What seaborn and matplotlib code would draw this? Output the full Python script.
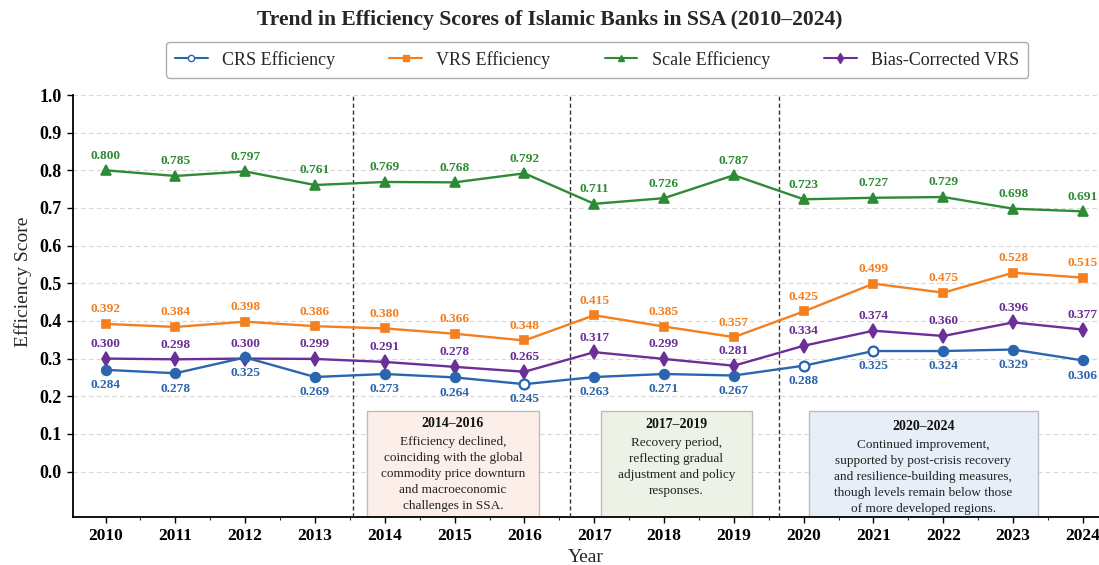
import numpy as np
import pandas as pd
import matplotlib
matplotlib.use("Agg")
import matplotlib.pyplot as plt
from matplotlib.lines import Line2D
from matplotlib.patches import Rectangle
from matplotlib.ticker import MultipleLocator
import seaborn as sns

# ---------------- data ----------------
years = list(range(2010, 2025))
crs_plot = [0.270, 0.261, 0.303, 0.251, 0.259, 0.250, 0.232, 0.251, 0.259, 0.255,
            0.281, 0.320, 0.320, 0.324, 0.295]
crs_labels = [0.284, 0.278, 0.325, 0.269, 0.273, 0.264, 0.245, 0.263, 0.271, 0.267,
              0.288, 0.325, 0.324, 0.329, 0.306]
vrs = [0.392, 0.384, 0.398, 0.386, 0.380, 0.366, 0.348, 0.415, 0.385, 0.357,
       0.425, 0.499, 0.475, 0.528, 0.515]
scale_eff = [0.800, 0.785, 0.797, 0.761, 0.769, 0.768, 0.792, 0.711, 0.726, 0.787,
             0.723, 0.727, 0.729, 0.698, 0.691]
bias_vrs = [0.300, 0.298, 0.300, 0.299, 0.291, 0.278, 0.265, 0.317, 0.299, 0.281,
            0.334, 0.374, 0.360, 0.396, 0.377]
crs_hollow_years = [2016, 2020, 2021]

series_names = ["CRS Efficiency", "VRS Efficiency", "Scale Efficiency", "Bias-Corrected VRS"]
yticks = [0.0, 0.1, 0.2, 0.3, 0.4, 0.5, 0.6, 0.7, 0.8, 0.9, 1.0]
period_breaks = [2013.55, 2016.65, 2019.65]

period_titles = ["2014\u20132016", "2017\u20132019", "2020\u20132024"]
period_texts = [
    "Efficiency declined,\ncoinciding with the global\ncommodity price downturn\nand macroeconomic\nchallenges in SSA.",
    "Recovery period,\nreflecting gradual\nadjustment and policy\nresponses.",
    "Continued improvement,\nsupported by post-crisis recovery\nand resilience-building measures,\nthough levels remain below those\nof more developed regions.",
]

# ---------------- style ----------------
sns.set_style("ticks")
plt.rcParams["font.family"] = ["Liberation Serif", "DejaVu Serif"]

c_crs = "#2b65ad"
c_vrs = "#f47f1f"
c_scale = "#2e8b35"
c_bias = "#6b2f97"

fig = plt.figure(figsize=(10.99, 5.65), dpi=100)
W, H = 1099, 565
ax = fig.add_axes([72.7 / W, 1 - 516.7 / H, 1 - 72.7 / W, (516.7 - 95) / H])

df = pd.DataFrame({"Year": years, "CRS": crs_plot, "VRS": vrs,
                   "Scale": scale_eff, "Bias": bias_vrs})

line_kw = dict(linewidth=1.7, markeredgewidth=1.2, zorder=5)
sns.lineplot(data=df, x="Year", y="Scale", ax=ax, color=c_scale, marker="^",
             markersize=7, markeredgecolor=c_scale, **line_kw)
sns.lineplot(data=df, x="Year", y="VRS", ax=ax, color=c_vrs, marker="s",
             markersize=6, markeredgecolor=c_vrs, **line_kw)
sns.lineplot(data=df, x="Year", y="Bias", ax=ax, color=c_bias, marker="d",
             markersize=7, markeredgecolor=c_bias, **line_kw)
sns.lineplot(data=df, x="Year", y="CRS", ax=ax, color=c_crs, marker="o",
             markersize=7, markeredgecolor=c_crs, **line_kw)
hollow = df[df["Year"].isin(crs_hollow_years)]
ax.plot(hollow["Year"], hollow["CRS"], linestyle="none", marker="o", markersize=7,
        markerfacecolor="white", markeredgecolor=c_crs, markeredgewidth=1.6, zorder=6)

# value labels
lab_kw = dict(textcoords="offset points", ha="center", va="center",
              fontsize=9.6, fontweight="bold", zorder=7)
for x, y in zip(years, scale_eff):
    ax.annotate(f"{y:.3f}", (x, y), xytext=(0, 10.5), color=c_scale, **lab_kw)
for x, y in zip(years, vrs):
    ax.annotate(f"{y:.3f}", (x, y), xytext=(0, 10.5), color=c_vrs, **lab_kw)
for x, y in zip(years, bias_vrs):
    ax.annotate(f"{y:.3f}", (x, y), xytext=(0, 10.5), color=c_bias, **lab_kw)
for x, y, lab in zip(years, crs_plot, crs_labels):
    ax.annotate(f"{lab:.3f}", (x, y), xytext=(0, -11), color=c_crs, **lab_kw)

# period separators
for xb in period_breaks:
    ax.axvline(xb, color="#333333", linestyle=(0, (3, 2)), linewidth=1.0, zorder=3)

# period annotation boxes
box_specs = [
    dict(x0=2013.74, x1=2016.21, face="#fcefea", ty=0.128, by=-0.007),
    dict(x0=2017.09, x1=2019.26, face="#edf2e6", ty=0.126, by=0.012),
    dict(x0=2020.08, x1=2023.35, face="#e8eef8", ty=0.120, by=-0.014),
]
for spec, title, body in zip(box_specs, period_titles, period_texts):
    rect = Rectangle((spec["x0"], -0.2), spec["x1"] - spec["x0"], 0.36,
                     facecolor=spec["face"], edgecolor="#bdbdbd", linewidth=1.0,
                     zorder=2, clip_on=True)
    ax.add_patch(rect)
    cx = (spec["x0"] + spec["x1"]) / 2
    ax.text(cx, spec["ty"], title, ha="center", va="center", fontsize=10,
            fontweight="bold", color="#111111", zorder=4)
    ax.text(cx, spec["by"], body, ha="center", va="center", fontsize=9.5,
            linespacing=1.45, color="#222222", zorder=4, clip_on=True)

# axes styling
ax.set_xlim(2009.53, 2024.23)
ax.set_ylim(-0.12, 1.0)
ax.set_xticks(years)
ax.xaxis.set_minor_locator(MultipleLocator(0.5))
ax.set_yticks(yticks)
ax.set_yticklabels([f"{t:.1f}" for t in yticks])
ax.tick_params(axis="both", which="major", labelsize=12.5, length=4.5, width=1.0,
               direction="out", colors="black")
ax.tick_params(axis="y", which="major", labelsize=13)
ax.tick_params(axis="x", which="minor", length=2.5, width=0.8)
for lab in ax.get_xticklabels() + ax.get_yticklabels():
    lab.set_fontweight("bold")
ax.yaxis.grid(True, linestyle=(0, (4, 3)), color="#d6d6d6", linewidth=0.8, zorder=0)
ax.xaxis.grid(False)
ax.set_axisbelow(True)
sns.despine(ax=ax, top=True, right=True)
ax.spines["left"].set_linewidth(1.3)
ax.spines["bottom"].set_linewidth(1.3)
ax.spines["left"].set_color("black")
ax.spines["bottom"].set_color("black")

ax.set_xlabel("Year", fontsize=14, labelpad=4)
ax.set_ylabel("Efficiency Score", fontsize=14)
ax.yaxis.set_label_coords(-0.040, 0.557)

fig.suptitle("Trend in Efficiency Scores of Islamic Banks in SSA (2010\u20132024)",
             fontsize=15.6, fontweight="bold", y=0.965, va="center", x=0.5)

# legend
handles = [
    Line2D([], [], color=c_crs, marker="o", markersize=4.5, markerfacecolor="white",
           markeredgecolor=c_crs, linewidth=1.5),
    Line2D([], [], color=c_vrs, marker="s", markersize=4, linewidth=1.5),
    Line2D([], [], color=c_scale, marker="^", markersize=4.5, linewidth=1.5),
    Line2D([], [], color=c_bias, marker="d", markersize=5, linewidth=1.5),
]
leg = ax.legend(handles, series_names, loc="lower center", bbox_to_anchor=(0.511, 1.02),
                ncol=4, fontsize=13, frameon=True, fancybox=True, edgecolor="#999999",
                handlelength=1.8, handletextpad=0.8, columnspacing=3.0,
                borderpad=0.5)
leg.get_frame().set_linewidth(1.0)

fig.savefig("out.png", dpi=100)
